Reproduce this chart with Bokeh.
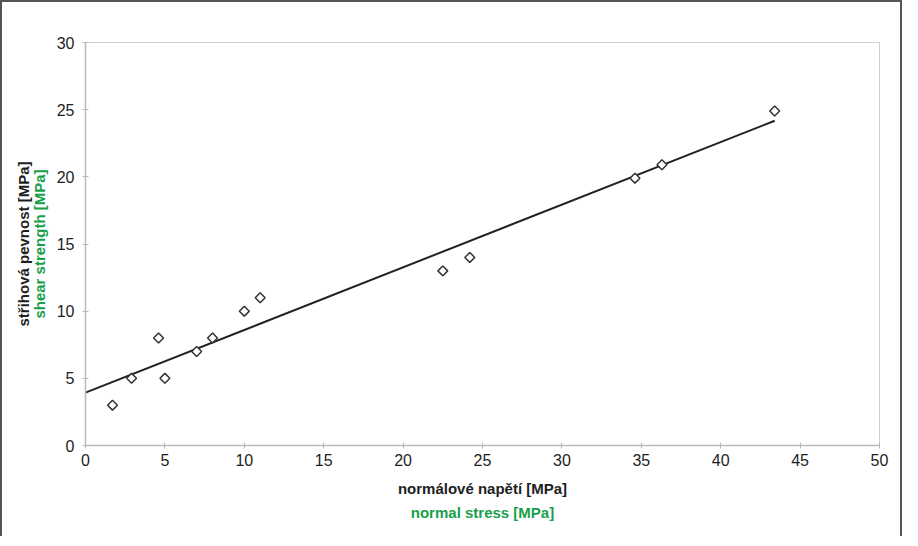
import numpy as np
from bokeh.plotting import figure
from bokeh.models import LinearAxis, FixedTicker, Range1d
from bokeh.embed import file_html
from bokeh.resources import INLINE

# ---- data ----
normal_stress = [1.7, 2.9, 4.6, 5.0, 7.0, 8.0, 10.0, 11.0, 22.5, 24.2, 34.6, 36.3, 43.4]
shear_strength = [3.0, 5.0, 8.0, 5.0, 7.0, 8.0, 10.0, 11.0, 13.0, 14.0, 19.9, 20.9, 24.9]
x_ticks = [0, 5, 10, 15, 20, 25, 30, 35, 40, 45, 50]
y_ticks = [0, 5, 10, 15, 20, 25, 30]
x_label_cz = "normálové napětí [MPa]"
x_label_en = "normal stress [MPa]"
y_label_cz = "střihová pevnost [MPa]"
y_label_en = "shear strength [MPa]"

# linear trend line (least squares fit of the points)
slope, intercept = np.polyfit(normal_stress, shear_strength, 1)
trend_x = [0.0, max(normal_stress)]
trend_y = [intercept + slope * v for v in trend_x]

FONT = "Liberation Sans"
GREEN = "#17a04a"
AXIS_GRAY = "#b8b8b8"
TEXT = "#1e1e1e"

p = figure(
    width=902, height=536,
    x_range=Range1d(0, 50), y_range=Range1d(0, 30),
    output_backend="svg", toolbar_location=None,
    min_border_left=83, min_border_right=25, min_border_top=40, min_border_bottom=93,
    background_fill_color="white", border_fill_color="white",
)
p.styles = {"border-left": "2px solid #555555", "border-top": "2px solid #555555",
            "border-right": "2px solid #555555"}
p.outline_line_color = "#cfcfcf"
p.outline_line_width = 1
p.xgrid.visible = False
p.ygrid.visible = False

def style_axis(ax):
    ax.axis_line_color = AXIS_GRAY
    ax.axis_line_width = 1.5
    ax.major_tick_line_color = AXIS_GRAY
    ax.major_tick_in = 3
    ax.major_tick_out = 3
    ax.minor_tick_line_color = None
    ax.major_label_text_font = FONT
    ax.major_label_text_font_size = "16px"
    ax.major_label_text_color = TEXT
    ax.axis_label_text_font = FONT
    ax.axis_label_text_font_size = "15px"
    ax.axis_label_text_font_style = "bold"

xa = p.xaxis[0]
xa.ticker = FixedTicker(ticks=x_ticks)
style_axis(xa)
xa.major_label_standoff = 5
xa.axis_label = x_label_cz
xa.axis_label_text_color = TEXT
xa.axis_label_standoff = 11

xa2 = LinearAxis(ticker=FixedTicker(ticks=[]), axis_label=x_label_en)
style_axis(xa2)
xa2.axis_line_color = None
xa2.major_tick_line_color = None
xa2.axis_label_text_color = GREEN
xa2.axis_label_standoff = 4
p.add_layout(xa2, "below")

ya = p.yaxis[0]
ya.ticker = FixedTicker(ticks=y_ticks)
style_axis(ya)
ya.major_label_standoff = 8
ya.axis_label = y_label_en
ya.axis_label_text_color = GREEN
ya.axis_label_standoff = 6

ya2 = LinearAxis(ticker=FixedTicker(ticks=[]), axis_label=y_label_cz)
style_axis(ya2)
ya2.axis_line_color = None
ya2.major_tick_line_color = None
ya2.axis_label_text_color = TEXT
ya2.axis_label_standoff = -4
p.add_layout(ya2, "left")

p.line(trend_x, trend_y, line_color="#222222", line_width=2)
p.scatter(normal_stress, shear_strength, marker="square", angle=np.pi / 4,
          size=7, fill_color="white", line_color="#333333", line_width=1.5)

open("out.html", "w").write(file_html(p, INLINE))
